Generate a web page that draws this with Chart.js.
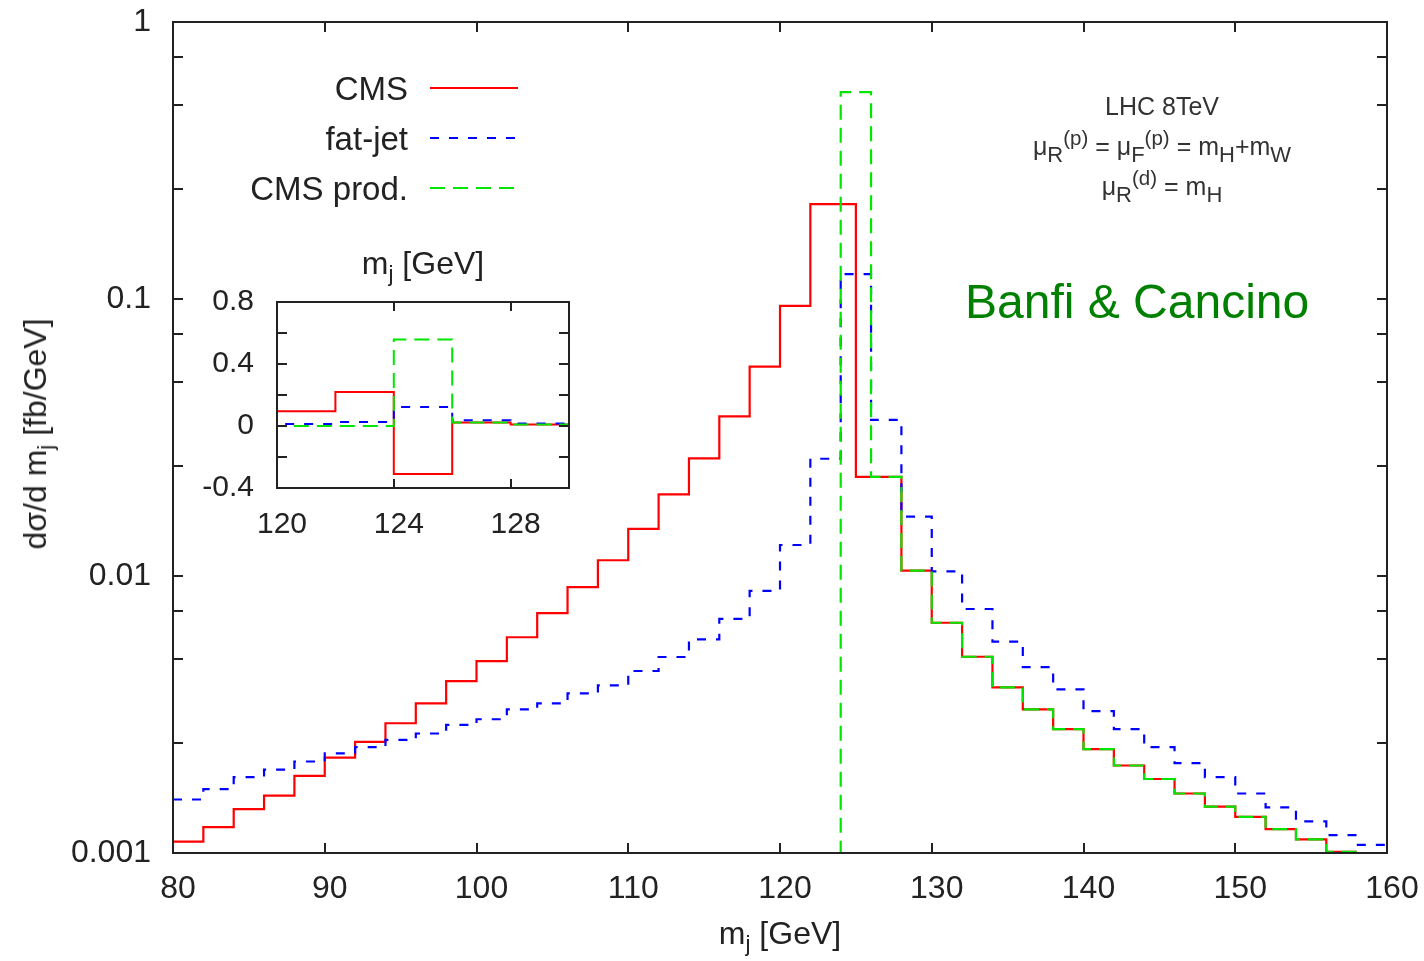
<!DOCTYPE html>
<html><head><meta charset="utf-8">
<script src="https://cdn.jsdelivr.net/npm/chart.js@4.4.1/dist/chart.umd.min.js"></script>
<style>
html,body{margin:0;padding:0;background:#fff;}
#wrap{position:relative;width:1424px;height:961px;overflow:hidden;font-family:"Liberation Sans",Arial,sans-serif;color:#222;}
canvas{position:absolute;}
.t{position:absolute;white-space:nowrap;line-height:1;}
.sb{font-size:70%;position:relative;top:0.32em;}
.s2{font-size:88%;position:relative;top:0.3em;}
.p2{font-size:82%;position:relative;top:-0.5em;}
</style></head>
<body><div id="wrap">
<canvas id="main" width="1424" height="961" style="left:0;top:0"></canvas>
<canvas id="inset" width="400" height="262" style="left:180px;top:282px"></canvas>
<div id="legend"></div>
<div class="t" style="left:35px;top:434px;font-size:32px;transform:translate(-50%,-50%) rotate(-90deg);">dσ/d m<span class="sb">j</span> [fb/GeV]</div>
<div class="t" style="left:780px;top:933px;font-size:32px;transform:translate(-50%,-50%);">m<span class="sb">j</span> [GeV]</div>
<div class="t" style="left:423px;top:263px;font-size:32px;transform:translate(-50%,-50%);">m<span class="sb">j</span> [GeV]</div>
<div class="t" style="left:1162px;top:94px;font-size:25px;color:#333;transform:translateX(-50%);">LHC 8TeV</div>
<div class="t" style="left:1162px;top:134px;font-size:25px;color:#333;transform:translateX(-50%);">μ<span class="s2">R</span><span class="p2">(p)</span> = μ<span class="s2">F</span><span class="p2">(p)</span> = m<span class="s2">H</span>+m<span class="s2">W</span></div>
<div class="t" style="left:1162px;top:174px;font-size:25px;color:#333;transform:translateX(-50%);">μ<span class="s2">R</span><span class="p2">(d)</span> = m<span class="s2">H</span></div>
<div class="t" style="left:965px;top:302px;font-size:48px;color:#008000;transform:translateY(-50%);">Banfi &amp; Cancino</div>
</div>
<script>
// ---------------- data ----------------
const binStart = 80;      // GeV, left edge of first bin
const binWidth = 2;       // GeV
const seriesNames = ['CMS', 'fat-jet', 'CMS prod.'];
// CMS (bins 80-82 ... 156-158); bin 124-126 is negative
const cmsValues = [
  0.00110, 0.00124, 0.00144, 0.00161, 0.00190, 0.00221, 0.00252, 0.00294, 0.00347, 0.00417,
  0.00493, 0.00601, 0.00735, 0.00912, 0.0114, 0.0148, 0.0197, 0.0266, 0.0377, 0.0570,
  0.0944, 0.220, -0.31, 0.0228, 0.01045, 0.00678, 0.00511, 0.00396, 0.00330, 0.00280,
  0.00237, 0.00207, 0.00185, 0.00164, 0.00147, 0.00135, 0.00122, 0.00112, 0.00101
];
// fat-jet (bins 80-82 ... 158-160)
const fatJetValues = [
  0.00156, 0.00170, 0.00188, 0.00200, 0.00214, 0.00229, 0.00241, 0.00256, 0.00270, 0.00290,
  0.00304, 0.00330, 0.00347, 0.00377, 0.00403, 0.00454, 0.00510, 0.00590, 0.00700, 0.00883,
  0.01294, 0.0265, 0.123, 0.0366, 0.01638, 0.0104, 0.0076, 0.0058, 0.00469, 0.0039,
  0.00325, 0.0028, 0.00241, 0.00211, 0.00188, 0.00164, 0.00146, 0.0013, 0.00116, 0.00107
];
// CMS production only (bins 80-82 ... 156-158); ~0 below 124 GeV
const cmsProdValues = [
  0.00001, 0.00001, 0.00001, 0.00001, 0.00001, 0.00001, 0.00001, 0.00001, 0.00001, 0.00001,
  0.00001, 0.00001, 0.00001, 0.00001, 0.00001, 0.00001, 0.00001, 0.00001, 0.00001, 0.00001,
  0.00001, 0.00001, 0.558, 0.0228, 0.01045, 0.00678, 0.00511, 0.00396, 0.00330, 0.00280,
  0.00237, 0.00207, 0.00185, 0.00164, 0.00147, 0.00135, 0.00122, 0.00112, 0.00101
];
// axes / ticks
const xTicks = [80, 90, 100, 110, 120, 130, 140, 150, 160];
const yTicks = [0.001, 0.0025, 0.005, 0.0075, 0.01, 0.025, 0.05, 0.075, 0.1, 0.25, 0.5, 0.75, 1];
const yTickLabels = ['0.001', '', '', '', '0.01', '', '', '', '0.1', '', '', '', '1'];
const insetXTicks = [120, 124, 128];
const insetYTicks = [-0.4, -0.2, 0, 0.2, 0.4, 0.6, 0.8];
const insetYTickLabels = ['-0.4', '', '0', '', '0.4', '', '0.8'];

// ---------------- helpers ----------------
const FONT = '"Liberation Sans", Arial, sans-serif';
const colors = ['#ff0000', '#0000ff', '#00e600'];
const dashes = [[], [9, 10], [15, 8]];
const allValues = [cmsValues, fatJetValues, cmsProdValues];

function histPoints(vals) {
  // points at bin centres (stepped 'middle'), plus outer bin edges
  const pts = [{x: binStart, y: vals[0]}];
  vals.forEach((v, i) => pts.push({x: binStart + binWidth * (i + 0.5), y: v}));
  pts.push({x: binStart + binWidth * vals.length, y: vals[vals.length - 1]});
  return pts;
}
function makeDatasets(lw) {
  return allValues.map((vals, i) => ({
    label: seriesNames[i],
    data: histPoints(vals),
    borderColor: colors[i],
    borderWidth: lw,
    borderDash: dashes[i],
    stepped: 'middle',
    spanGaps: true,
    pointRadius: 0,
    fill: false,
    order: 3 - i
  }));
}
const frameTicks = {
  id: 'frameTicks',
  afterDatasetsDraw(chart, args, o) {
    const {ctx, chartArea: a, scales} = chart;
    ctx.save();
    ctx.strokeStyle = '#222';
    ctx.lineWidth = o.width;
    ctx.beginPath();
    scales.x.ticks.forEach(t => {
      const px = Math.round(scales.x.getPixelForValue(t.value));
      if (px <= a.left + 1 || px >= a.right - 1) return;
      ctx.moveTo(px, a.bottom); ctx.lineTo(px, a.bottom - o.xLen);
      ctx.moveTo(px, a.top); ctx.lineTo(px, a.top + o.xLen);
    });
    scales.y.ticks.forEach(t => {
      const py = Math.round(scales.y.getPixelForValue(t.value));
      if (py <= a.top + 1 || py >= a.bottom - 1) return;
      ctx.moveTo(a.left, py); ctx.lineTo(a.left + o.yLen, py);
      ctx.moveTo(a.right, py); ctx.lineTo(a.right - o.yLen, py);
    });
    ctx.stroke();
    ctx.strokeRect(a.left, a.top, a.right - a.left, a.bottom - a.top);
    ctx.restore();
  }
};
const fitX = h => s => { s.height = h; s.paddingLeft = 0; s.paddingRight = 0; };
const fitY = w => s => { s.width = w; s.paddingTop = 0; s.paddingBottom = 0; };

// ---------------- main chart ----------------
const mainChart = new Chart(document.getElementById('main'), {
  type: 'line',
  data: {datasets: makeDatasets(2.2)},
  plugins: [frameTicks],
  options: {
    responsive: false, animation: false, devicePixelRatio: 1,
    layout: {padding: {top: 22, right: 37, left: 0, bottom: 0}},
    plugins: {legend: {display: false}, tooltip: {enabled: false},
      frameTicks: {width: 2, xLen: 10, yLen: 10}},
    scales: {
      x: {
        type: 'linear', min: 80, max: 160,
        grid: {display: false}, border: {display: false},
        afterBuildTicks: s => { s.ticks = xTicks.map(v => ({value: v})); },
        afterFit: fitX(108),
        ticks: {autoSkip: false, maxRotation: 0, padding: 9, labelOffset: 5,
          color: '#222', font: {family: FONT, size: 32}, callback: v => String(v)}
      },
      y: {
        type: 'logarithmic', min: 0.001, max: 1,
        grid: {display: false}, border: {display: false},
        afterBuildTicks: s => { s.ticks = yTicks.map(v => ({value: v})); },
        afterFit: fitY(173),
        ticks: {autoSkip: false, padding: 14, color: '#222', font: {family: FONT, size: 32},
          callback: (v, i) => yTickLabels[i]}
      }
    }
  }
});

// ---------------- inset chart ----------------
const insetChart = new Chart(document.getElementById('inset'), {
  type: 'line',
  data: {datasets: makeDatasets(2)},
  plugins: [frameTicks],
  options: {
    responsive: false, animation: false, devicePixelRatio: 1,
    layout: {padding: {top: 20, right: 11, left: 0, bottom: 0}},
    plugins: {legend: {display: false}, tooltip: {enabled: false},
      frameTicks: {width: 2, xLen: 9, yLen: 10}},
    scales: {
      x: {
        type: 'linear', min: 120, max: 130,
        grid: {display: false}, border: {display: false},
        afterBuildTicks: s => { s.ticks = insetXTicks.map(v => ({value: v})); },
        afterFit: fitX(56),
        ticks: {autoSkip: false, maxRotation: 0, padding: 11, labelOffset: 5,
          color: '#222', font: {family: FONT, size: 30}, callback: v => String(v)}
      },
      y: {
        type: 'linear', min: -0.4, max: 0.8,
        grid: {display: false}, border: {display: false},
        afterBuildTicks: s => { s.ticks = insetYTicks.map(v => ({value: v})); },
        afterFit: fitY(97),
        ticks: {autoSkip: false, padding: 15, color: '#222', font: {family: FONT, size: 30},
          callback: (v, i) => insetYTickLabels[i]}
      }
    }
  }
});

// ---------------- legend (from datasets) ----------------
const legend = document.getElementById('legend');
const legendRowY = [88, 138, 188];
mainChart.data.datasets.forEach((ds, i) => {
  const txt = document.createElement('div');
  txt.className = 't';
  txt.style.cssText = `right:${1424 - 408}px;top:${legendRowY[i]}px;font-size:33px;transform:translateY(-50%);`;
  txt.textContent = ds.label;
  legend.appendChild(txt);
  const svg = document.createElementNS('http://www.w3.org/2000/svg', 'svg');
  svg.setAttribute('width', '90'); svg.setAttribute('height', '6');
  svg.style.cssText = `position:absolute;left:429px;top:${legendRowY[i] - 3}px;`;
  const ln = document.createElementNS('http://www.w3.org/2000/svg', 'line');
  ln.setAttribute('x1', '1'); ln.setAttribute('x2', '89');
  ln.setAttribute('y1', '3'); ln.setAttribute('y2', '3');
  ln.setAttribute('stroke', ds.borderColor); ln.setAttribute('stroke-width', '2.2');
  if (ds.borderDash.length) ln.setAttribute('stroke-dasharray', ds.borderDash.join(' '));
  svg.appendChild(ln);
  legend.appendChild(svg);
});
</script>
</body></html>
